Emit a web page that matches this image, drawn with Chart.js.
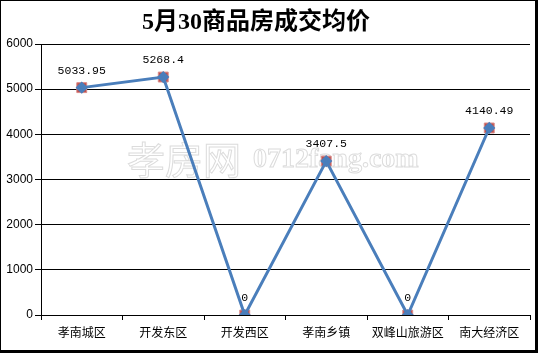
<!DOCTYPE html>
<html><head><meta charset="utf-8">
<script src="https://cdn.jsdelivr.net/npm/chart.js@4/dist/chart.umd.min.js"></script>
<style>html,body{margin:0;padding:0;background:#fff}#wrap{width:538px;height:353px;position:relative}</style>
</head><body><div id="wrap"><canvas id="c" width="538" height="353"></canvas></div>
<script>
const categories = ['孝南城区','开发东区','开发西区','孝南乡镇','双峰山旅游区','南大经济区'];
const prices = [5033.95, 5268.4, 0, 3407.5, 0, 4140.49];
const priceLabels = ['5033.95','5268.4','0','3407.5','0','4140.49'];
const yTicks = [0,1000,2000,3000,4000,5000,6000];
const titleText = '5月30商品房成交均价';

const deco = {
  id:'deco',
  beforeDatasetsDraw(chart){
    const ctx = chart.ctx; ctx.save();
    ctx.strokeStyle = '#dcdcdc'; ctx.lineWidth = 1; ctx.textBaseline='middle'; ctx.textAlign='left';
    ctx.font = '38px "Noto Sans CJK SC"';
    ctx.strokeText('孝房网', 127, 160);
    ctx.font = 'bold 28px "Liberation Serif"';
    ctx.strokeText('0712fang.com', 253, 160);
    ctx.restore();
  },
  afterDatasetsDraw(chart){
    const ctx = chart.ctx; ctx.save();
    const meta = chart.getDatasetMeta(1);
    ctx.font = '11.5px "Liberation Mono"'; ctx.fillStyle='#000'; ctx.textAlign='center'; ctx.textBaseline='middle';
    meta.data.forEach((p,i)=>{ ctx.fillText(priceLabels[i], p.x, p.y-17); });
    ctx.restore();
  },
  afterDraw(chart){
    const ctx = chart.ctx; ctx.save();
    ctx.font = 'bold 24px "Liberation Serif", "Noto Sans CJK SC"';
    ctx.fillStyle='#000'; ctx.textAlign='center'; ctx.textBaseline='middle';
    ctx.fillText(titleText, 256, 23);
    ctx.fillStyle='#000';
    ctx.fillRect(0,0,538,1); ctx.fillRect(0,0,1,353);
    ctx.fillRect(535,0,3,353); ctx.fillRect(0,350,538,3);
    ctx.restore();
  }
};

new Chart(document.getElementById('c'), {
  type:'line',
  data:{ labels:categories, datasets:[
    {data:prices, showLine:false, pointStyle:'rect', pointRadius:7, pointBackgroundColor:'#C0504D', pointBorderColor:'#D98B88', pointBorderWidth:1, order:2},
    {data:prices, borderColor:'#4A7EBB', borderWidth:3, pointStyle:'rectRot', pointRadius:4, pointBackgroundColor:'#4A7EBB', pointBorderColor:'#4A7EBB', tension:0, order:1}
  ]},
  options:{
    responsive:false, animation:false,
    layout:{padding:{top:44,right:4,left:0,bottom:0}},
    plugins:{legend:{display:false}, tooltip:{enabled:false}, title:{display:false}},
    scales:{
      x:{offset:true,
        grid:{display:true, offset:true, drawOnChartArea:false, drawTicks:true, tickLength:5, color:'#000'},
        border:{color:'#000', width:1},
        ticks:{color:'#000', font:{family:'"Noto Sans CJK SC"', size:12}, padding:5, maxRotation:0, autoSkip:false},
        afterFit(s){ s.height = 38; }
      },
      y:{min:0,max:6000,
        afterBuildTicks(s){ s.ticks = yTicks.map(v=>({value:v})); },
        grid:{color:'#000', lineWidth:1, tickLength:6, drawTicks:true},
        border:{color:'#000', width:1},
        ticks:{color:'#000', font:{family:'"Liberation Sans"', size:12}, padding:2, callback:(v)=>String(v)},
        afterFit(s){ s.width = 41; }
      }
    }
  },
  plugins:[deco]
});
</script></body></html>
